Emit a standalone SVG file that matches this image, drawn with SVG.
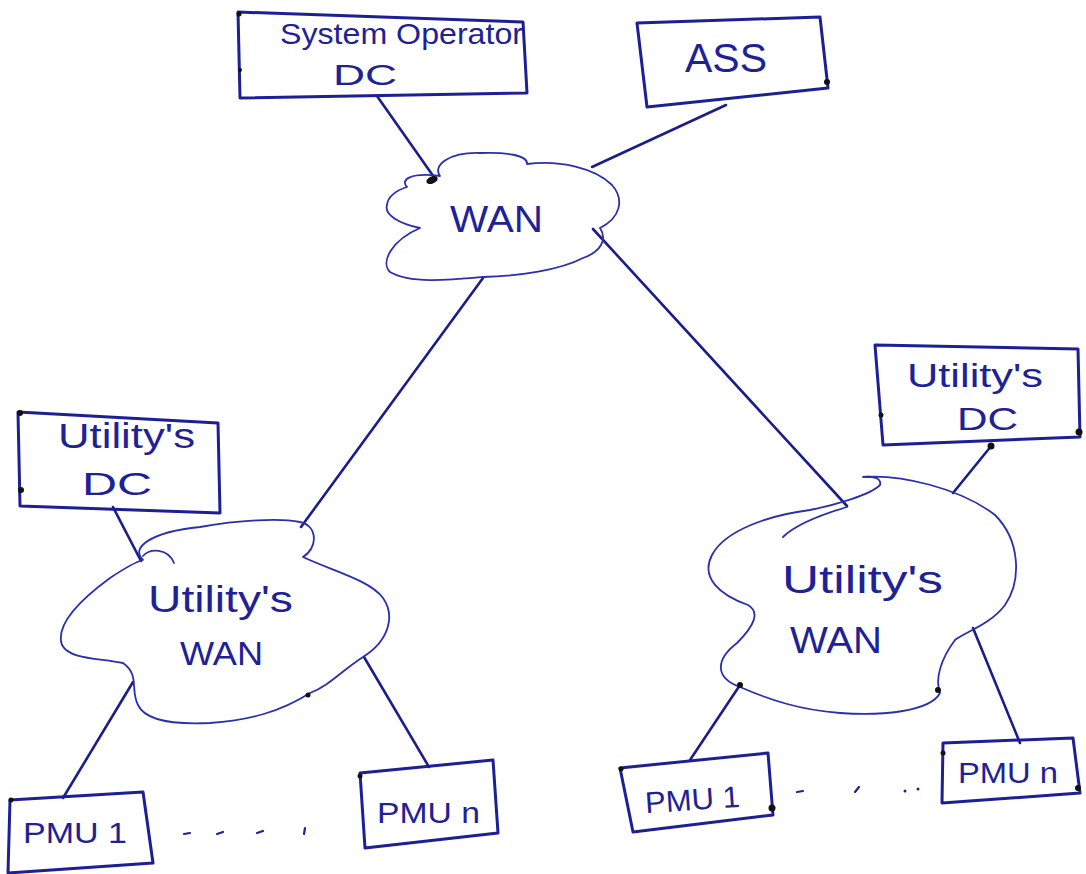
<svg xmlns="http://www.w3.org/2000/svg" width="1086" height="874" viewBox="0 0 1086 874">
  <style>
    .box { fill: none; stroke: #1c1f96; stroke-width: 3; stroke-linejoin: round; }
    .cloud { fill: none; stroke: #2a2fb0; stroke-width: 1.8; stroke-linecap: round; stroke-linejoin: round; }
    .link { fill: none; stroke: #1a1d8a; stroke-width: 2.6; stroke-linecap: round; }
    .lbl { font-family: "Liberation Sans", "DejaVu Sans", sans-serif; fill: #1e2296; lengthAdjust: spacingAndGlyphs; }
    .ink { fill: #111; }
    .dash { stroke: #1e2296; stroke-width: 2.2; stroke-linecap: round; fill: none; }
  </style>
  <rect width="1086" height="874" fill="#ffffff"/>

  <!-- connectors -->
  <g id="connectors">
    <line class="link" x1="377" y1="96" x2="436" y2="180"/>
    <line class="link" x1="726" y1="105" x2="592" y2="167"/>
    <line class="link" x1="483" y1="278" x2="301" y2="527"/>
    <line class="link" x1="593" y1="229" x2="847" y2="506"/>
    <line class="link" x1="113" y1="507" x2="141" y2="561"/>
    <line class="link" x1="133" y1="682" x2="63" y2="798"/>
    <line class="link" x1="364" y1="657" x2="429" y2="767"/>
    <line class="link" x1="992" y1="445" x2="953" y2="493"/>
    <line class="link" x1="740" y1="685" x2="690" y2="760"/>
    <line class="link" x1="973" y1="628" x2="1020" y2="743"/>
  </g>

  <!-- control centres -->
  <g id="system-operator-dc">
    <polygon class="box" points="238,12 523,22 527,93 240,98"/>
    <text class="lbl" x="280" y="44" font-size="30" textLength="243" lengthAdjust="spacingAndGlyphs">System Operator</text>
    <text class="lbl" x="333" y="85" font-size="30" textLength="64" lengthAdjust="spacingAndGlyphs">DC</text>
    <circle class="ink" cx="239" cy="14" r="2.5"/>
    <circle class="ink" cx="240" cy="70" r="2"/>
  </g>

  <g id="ass">
    <polygon class="box" points="637,23 820,17 828,88 647,107"/>
    <text class="lbl" x="685" y="72" font-size="40" textLength="82" lengthAdjust="spacingAndGlyphs">ASS</text>
    <circle class="ink" cx="827" cy="82" r="3"/>
  </g>

  <g id="wan">
    <path class="cloud" d="M407,187 C400,180 410,172 440,176 C432,165 450,152 480,153 C505,152 528,155 527,164 C560,160 595,168 612,185 C625,200 620,218 600,228 C608,240 600,252 583,258 C560,270 520,276 483,277 C450,280 410,284 390,272 C380,262 392,240 420,228 C400,224 384,215 387,205 C388,195 398,190 407,187 Z"/>
    <text class="lbl" x="450" y="232" font-size="36" textLength="93" lengthAdjust="spacingAndGlyphs">WAN</text>
    <ellipse class="ink" cx="432" cy="180" rx="6" ry="3.5" transform="rotate(-25 432 180)"/>
  </g>

  <!-- left utility -->
  <g id="utility-dc-left">
    <polygon class="box" points="18,412 218,423 220,513 20,506"/>
    <text class="lbl" x="58" y="448" font-size="35" textLength="137" lengthAdjust="spacingAndGlyphs">Utility's</text>
    <text class="lbl" x="82" y="495" font-size="32" textLength="70" lengthAdjust="spacingAndGlyphs">DC</text>
    <circle class="ink" cx="20" cy="413" r="3"/>
    <circle class="ink" cx="21" cy="490" r="3"/>
  </g>

  <g id="utility-wan-left">
    <path class="cloud" d="M143,560 C130,548 150,532 200,527 C240,520 280,518 300,522 C318,526 318,548 303,557 C330,570 370,580 383,598 C395,615 390,640 363,657 C340,672 330,685 310,693 C280,712 250,720 210,723 C170,725 145,720 138,705 C130,690 140,675 123,663 C100,658 70,660 62,645 C55,625 80,600 110,578 C125,568 135,562 143,560 Z"/>
    <path class="cloud" d="M143,556 C150,548 168,548 174,563"/>
    <text class="lbl" x="148" y="612" font-size="36" textLength="145" lengthAdjust="spacingAndGlyphs">Utility's</text>
    <text class="lbl" x="180" y="665" font-size="34" textLength="83" lengthAdjust="spacingAndGlyphs">WAN</text>
    <circle class="ink" cx="308" cy="695" r="2.5"/>
  </g>

  <g id="pmu1-left">
    <polygon class="box" points="10,800 143,792 153,863 8,873"/>
    <text class="lbl" x="23" y="843" font-size="30" textLength="104" lengthAdjust="spacingAndGlyphs">PMU 1</text>
    <circle class="ink" cx="11" cy="800" r="2.5"/>
  </g>

  <g id="pmun-left">
    <polygon class="box" points="360,773 493,760 498,833 365,848"/>
    <text class="lbl" x="377" y="823" font-size="30" textLength="103" lengthAdjust="spacingAndGlyphs">PMU n</text>
    <circle class="ink" cx="360" cy="776" r="2.5"/>
  </g>

  <g id="ellipsis-left">
    <line class="dash" x1="184" y1="834" x2="190" y2="833"/>
    <line class="dash" x1="217" y1="834" x2="223" y2="832"/>
    <line class="dash" x1="257" y1="833" x2="263" y2="831"/>
    <line class="dash" x1="305" y1="828" x2="304" y2="834"/>
  </g>

  <!-- right utility -->
  <g id="utility-dc-right">
    <polygon class="box" points="875,345 1078,349 1080,437 883,445"/>
    <text class="lbl" x="907" y="387" font-size="34" textLength="136" lengthAdjust="spacingAndGlyphs">Utility's</text>
    <text class="lbl" x="957" y="430" font-size="32" textLength="61" lengthAdjust="spacingAndGlyphs">DC</text>
    <circle class="ink" cx="881" cy="415" r="2.5"/>
    <circle class="ink" cx="1079" cy="432" r="3.5"/>
    <circle class="ink" cx="991" cy="446" r="3.5"/>
  </g>

  <g id="utility-wan-right">
    <path class="cloud" d="M863,477 C900,474 960,488 995,515 C1020,540 1022,580 1005,605 C990,625 965,632 955,640 C940,660 935,680 940,693 C930,712 880,716 840,713 C800,710 770,700 740,687 C715,678 715,660 737,643 C755,625 760,612 748,605 C720,595 700,578 712,555 C725,530 770,515 810,510 C835,505 870,495 880,485 C882,478 872,476 863,477 Z"/>
    <path class="cloud" d="M847,507 C820,515 795,525 783,537"/>
    <text class="lbl" x="782" y="593" font-size="38" textLength="161" lengthAdjust="spacingAndGlyphs">Utility's</text>
    <text class="lbl" x="790" y="653" font-size="36" textLength="92" lengthAdjust="spacingAndGlyphs">WAN</text>
    <circle class="ink" cx="740" cy="685" r="3"/>
    <circle class="ink" cx="938" cy="690" r="3"/>
  </g>

  <g id="pmu1-right">
    <polygon class="box" points="620,768 768,753 773,815 633,832"/>
    <text class="lbl" x="645" y="810" font-size="30" textLength="95" lengthAdjust="spacingAndGlyphs" transform="rotate(-4 693 800)">PMU 1</text>
    <circle class="ink" cx="772" cy="808" r="3.5"/>
    <circle class="ink" cx="621" cy="769" r="2.5"/>
  </g>

  <g id="pmun-right">
    <polygon class="box" points="943,743 1073,738 1080,793 942,803"/>
    <text class="lbl" x="958" y="783" font-size="30" textLength="100" lengthAdjust="spacingAndGlyphs">PMU n</text>
    <circle class="ink" cx="943" cy="753" r="2.5"/>
    <circle class="ink" cx="1078" cy="788" r="3"/>
  </g>

  <g id="ellipsis-right">
    <line class="dash" x1="797" y1="792" x2="803" y2="791"/>
    <line class="dash" x1="855" y1="792" x2="859" y2="787"/>
    <circle cx="905" cy="791" r="1.5" fill="#1e2296"/>
    <circle cx="918" cy="789" r="1.5" fill="#1e2296"/>
  </g>
</svg>
